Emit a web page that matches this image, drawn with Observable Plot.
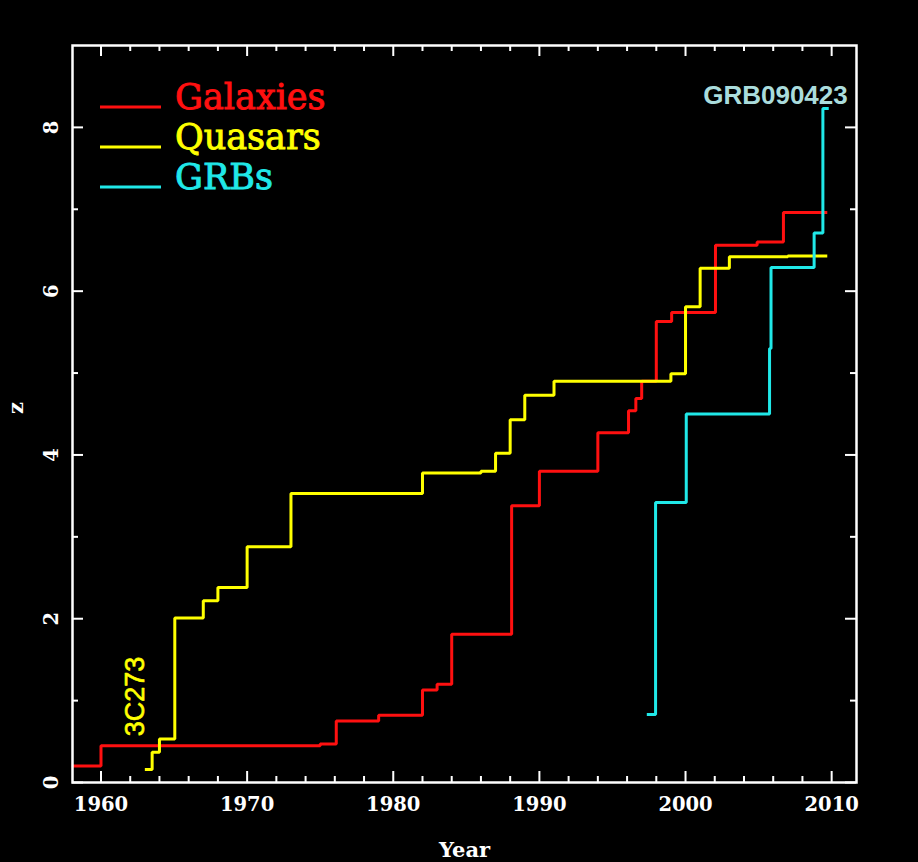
<!DOCTYPE html>
<html><head><meta charset="utf-8">
<script src="https://cdn.jsdelivr.net/npm/d3@7"></script>
<script src="https://cdn.jsdelivr.net/npm/@observablehq/plot@0.6"></script>
<style>html,body{margin:0;padding:0;background:#000;} svg{display:block}</style>
</head><body><div id="chart"></div>
<script>
// ---- data ----
const galaxyYears = [1958, 1960.0, 1975.0, 1976.1, 1979.0, 1982.0, 1983.0, 1984.0, 1988.1, 1990.0, 1994.0, 1996.1, 1996.6, 1997.0, 1998.0, 1999.05, 2002.05, 2004.9, 2006.7, 2009.7];
const galaxyZ     = [0.20, 0.45, 0.47, 0.75, 0.82, 1.13, 1.20, 1.81, 3.38, 3.80, 4.27, 4.54, 4.69, 4.90, 5.63, 5.74, 6.56, 6.60, 6.96, 6.96];
const quasarYears = [1963.0, 1963.5, 1964.0, 1965.05, 1967.0, 1968.0, 1970.0, 1973.0, 1982.0, 1986.0, 1987.0, 1988.0, 1989.0, 1991.0, 1999.0, 2000.0, 2001.0, 2003.0, 2007.0, 2009.7];
const quasarZ     = [0.16, 0.37, 0.53, 2.01, 2.22, 2.38, 2.88, 3.53, 3.78, 3.80, 4.02, 4.43, 4.73, 4.90, 4.99, 5.81, 6.28, 6.42, 6.43, 6.43];
const grbYears    = [1997.35, 1997.95, 2000.05, 2005.75, 2005.85, 2008.8, 2009.4, 2009.8];
const grbZ        = [0.83, 3.42, 4.50, 5.30, 6.29, 6.71, 8.23, 8.23];

const seriesNames  = ["Galaxies", "Quasars", "GRBs"];
const seriesColors = ["#ff1010", "#ffff00", "#20e8e8"];

const xMajor = [1960, 1970, 1980, 1990, 2000, 2010];
const xMinor = [1962, 1964, 1966, 1968, 1972, 1974, 1976, 1978, 1982, 1984, 1986, 1988, 1992, 1994, 1996, 1998, 2002, 2004, 2006, 2008];
const yMajor = [0, 2, 4, 6, 8];
const yMinor = [1, 3, 5, 7];
const xLabel = "Year";
const yLabel = "z";
const annotations = [{text: "3C273"}, {text: "GRB090423"}];

// ---- build table ----
const rows = [];
galaxyYears.forEach((y, i) => rows.push({series: "Galaxies", year: y, z: galaxyZ[i]}));
quasarYears.forEach((y, i) => rows.push({series: "Quasars", year: y, z: quasarZ[i]}));
grbYears.forEach((y, i) => rows.push({series: "GRBs", year: y, z: grbZ[i]}));

const W = 918, H = 862, mL = 72, mR = 62, mT = 45, mB = 80;
const innerW = W - mL - mR, innerH = H - mT - mB;
const tickFont = "DejaVu Serif";

const firstQ = {year: quasarYears[0], z: quasarZ[0]};
const lastG = {year: grbYears[grbYears.length - 1], z: grbZ[grbZ.length - 1]};

const plot = Plot.plot({
  width: W, height: H,
  marginLeft: mL, marginRight: mR, marginTop: mT, marginBottom: mB,
  style: {background: "#000", color: "white"},
  x: {domain: [1958.05, 2011.7]},
  y: {domain: [0, 9]},
  color: {domain: seriesNames, range: seriesColors},
  marks: [
    Plot.line(rows, {x: "year", y: "z", z: "series", stroke: "series", curve: "step-after", strokeWidth: 3, strokeLinejoin: "miter", strokeLinecap: "butt"}),
    // ticks (inward, all four sides)
    Plot.ruleX(xMajor, {stroke: "white", strokeWidth: 2, insetTop: innerH - 11}),
    Plot.ruleX(xMajor, {stroke: "white", strokeWidth: 2, insetBottom: innerH - 11}),
    Plot.ruleX(xMinor, {stroke: "white", strokeWidth: 2, insetTop: innerH - 6}),
    Plot.ruleX(xMinor, {stroke: "white", strokeWidth: 2, insetBottom: innerH - 6}),
    Plot.ruleY(yMajor, {stroke: "white", strokeWidth: 2, insetRight: innerW - 11}),
    Plot.ruleY(yMajor, {stroke: "white", strokeWidth: 2, insetLeft: innerW - 11}),
    Plot.ruleY(yMinor, {stroke: "white", strokeWidth: 2, insetRight: innerW - 6}),
    Plot.ruleY(yMinor, {stroke: "white", strokeWidth: 2, insetLeft: innerW - 6}),
    Plot.frame({stroke: "white", strokeWidth: 2.5}),
    Plot.axisX(xMajor, {tickSize: 0, tickPadding: 15, tickFormat: d3.format("d"), fontSize: 19.5, fontFamily: tickFont, fontWeight: "bold", fill: "white", label: null}),
    Plot.axisY(yMajor, {tickSize: 0, tickRotate: -90, tickPadding: 15, tickFormat: d3.format("d"), fontSize: 19.5, fontFamily: tickFont, fontWeight: "bold", fill: "white", label: null}),
    Plot.text([xLabel], {frameAnchor: "bottom", dy: 68, text: d => d, fontSize: 21, fontFamily: tickFont, fontWeight: "bold", fill: "white", lineAnchor: "middle"}),
    Plot.text([yLabel], {frameAnchor: "left", dx: -56, rotate: -90, text: d => d, fontSize: 21, fontFamily: tickFont, fontWeight: "bold", fill: "white"}),
    Plot.text([firstQ], {x: "year", y: "z", text: () => annotations[0].text, rotate: -90, dx: -9.5, dy: -73, fontSize: 27, fontFamily: "Liberation Sans", fill: "#ffff00", stroke: "#ffff00", strokeWidth: 0.6}),
    Plot.text([lastG], {x: "year", y: "z", text: () => annotations[1].text, textAnchor: "end", lineAnchor: "bottom", dx: 19, dy: -5, fontSize: 26, fontWeight: "bold", fontFamily: "Liberation Sans", fill: "#aadcdc"})
  ]
});

// legend inside the frame
const svg = d3.select(plot);
const lg = svg.append("g").attr("class", "legend").attr("text-anchor", "start");
seriesNames.forEach((name, i) => {
  const yy = 107 + i * 40;
  lg.append("line").attr("x1", 100).attr("x2", 161).attr("y1", yy).attr("y2", yy)
    .attr("stroke", seriesColors[i]).attr("stroke-width", 3);
  lg.append("text").attr("x", 175).attr("y", yy + 2).text(name)
    .attr("text-anchor", "start")
    .attr("fill", seriesColors[i]).attr("stroke", seriesColors[i]).attr("stroke-width", 0.9)
    .attr("font-family", "DejaVu Serif").attr("font-size", 35);
});

document.getElementById("chart").appendChild(plot);
</script>
</body></html>
